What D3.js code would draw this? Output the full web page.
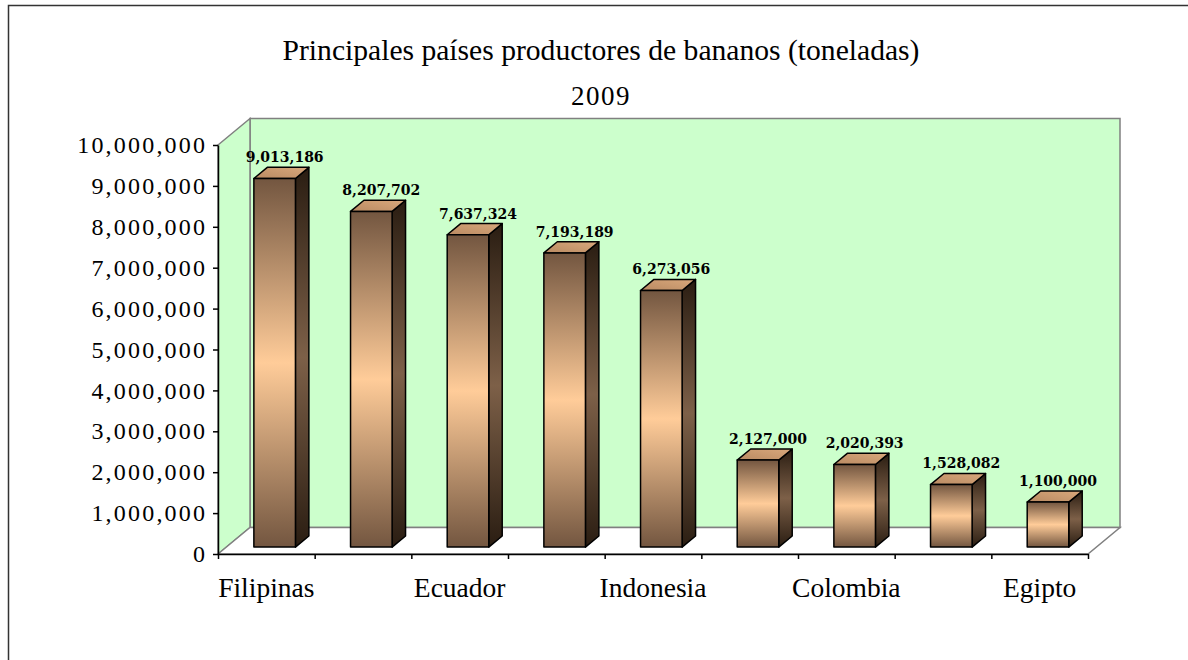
<script src="https://d3js.org/d3.v7.min.js"></script>

<style>
  body { margin: 0; background: #fff; overflow: hidden; }
  svg { display: block; }
  .tick text { font-family: "Liberation Serif", serif; }
  .lbl { font-family: "DejaVu Serif", serif; font-weight: bold; font-size: 14px; }
</style>

<body>
<div id="chart"></div>

<script>
  // data
  var paises = ["Filipinas", "China", "Ecuador", "Brasil", "Indonesia", "Costa Rica", "Colombia", "Guatemala", "Egipto"];
  var toneladas = [9013186, 8207702, 7637324, 7193189, 6273056, 2127000, 2020393, 1528082, 1100000];
  var yTicks = [0, 1000000, 2000000, 3000000, 4000000, 5000000, 6000000, 7000000, 8000000, 9000000, 10000000];
  var titulo = "Principales países productores de bananos (toneladas)";
  var subtitulo = "2009";

  var width = 1188,
      height = 660;

  // front plane of the plot, depth offset of the back wall
  var pL = 218, pR = 1088, pT = 145, pB = 554;
  var DX = 32, DY = 26.5;
  var z0 = 0.26, z1 = 0.68;   // depth range of the bars

  var svg = d3.select("#chart")
      .append("svg")
      .attr("width", width)
      .attr("height", height);

  var x = d3.scaleBand()
      .domain(paises)
      .range([pL, pR])
      .paddingInner(0.57)
      .paddingOuter(0.285);

  var y = d3.scaleLinear()
      .domain([0, 10000000])
      .range([pB, pT]);

  function P(px, py, z) { return [px + z * DX, py - z * DY]; }
  function poly(pts) { return pts.map(function(p) { return p.join(","); }).join(" "); }

  // gradients
  var defs = svg.append("defs");
  function grad(id, stops) {
    var g = defs.append("linearGradient").attr("id", id)
        .attr("x1", 0).attr("y1", 0).attr("x2", 0).attr("y2", 1);
    stops.forEach(function(s) {
      g.append("stop").attr("offset", s[0]).attr("stop-color", s[1]);
    });
  }
  grad("gFront", [[0, "#735640"], [0.5, "#ffcc99"], [1, "#735640"]]);
  grad("gSide", [[0, "#2a1d12"], [0.5, "#7d6048"], [1, "#2a1d12"]]);
  var gt = defs.append("linearGradient").attr("id", "gTop")
      .attr("x1", 0).attr("y1", 1).attr("x2", 1).attr("y2", 0);
  gt.append("stop").attr("offset", 0).attr("stop-color", "#b98a62");
  gt.append("stop").attr("offset", 1).attr("stop-color", "#d9a87c");

  // outer frame (runs off the right and bottom of the picture)
  svg.append("path")
      .attr("d", "M8.5,700V5.5H1300")
      .attr("fill", "none")
      .attr("stroke", "#333")
      .attr("stroke-width", 1.5);

  // titles
  svg.append("text")
      .attr("x", 601).attr("y", 60)
      .attr("text-anchor", "middle")
      .style("font-family", "Liberation Serif, serif")
      .style("font-size", "29.6px")
      .text(titulo);

  svg.append("text")
      .attr("x", 601).attr("y", 105)
      .attr("text-anchor", "middle")
      .style("font-family", "Liberation Serif, serif")
      .style("font-size", "27px")
      .style("letter-spacing", "1.5px")
      .text(subtitulo);

  // walls
  var w = svg.append("g").attr("stroke", "#808080").attr("stroke-width", 1.5);
  w.append("polygon")
      .attr("points", poly([P(pL, pT, 1), P(pR, pT, 1), P(pR, pB, 1), P(pL, pB, 1)]))
      .attr("fill", "#ccffcc");
  w.append("polygon")
      .attr("points", poly([P(pL, pT, 0), P(pL, pT, 1), P(pL, pB, 1), P(pL, pB, 0)]))
      .attr("fill", "#ccffcc");
  w.append("polygon")
      .attr("points", poly([P(pL, pB, 0), P(pL, pB, 1), P(pR, pB, 1), P(pR, pB, 0)]))
      .attr("fill", "#fff");

  // bars
  var bars = svg.append("g")
      .attr("stroke", "#000")
      .attr("stroke-width", 1.5)
      .attr("stroke-linejoin", "round")
      .selectAll("g")
      .data(paises)
      .enter().append("g");

  bars.append("polygon")
      .attr("fill", "url(#gSide)")
      .attr("points", function(d, i) {
        var xr = x(d) + x.bandwidth(), yt = y(toneladas[i]);
        return poly([P(xr, yt, z0), P(xr, yt, z1), P(xr, pB, z1), P(xr, pB, z0)]);
      });

  bars.append("polygon")
      .attr("fill", "url(#gTop)")
      .attr("points", function(d, i) {
        var xl = x(d), xr = x(d) + x.bandwidth(), yt = y(toneladas[i]);
        return poly([P(xl, yt, z0), P(xl, yt, z1), P(xr, yt, z1), P(xr, yt, z0)]);
      });

  bars.append("polygon")
      .attr("fill", "url(#gFront)")
      .attr("points", function(d, i) {
        var xl = x(d), xr = x(d) + x.bandwidth(), yt = y(toneladas[i]);
        return poly([P(xl, yt, z0), P(xr, yt, z0), P(xr, pB, z0), P(xl, pB, z0)]);
      });

  // data labels
  svg.append("g").selectAll("text")
      .data(paises)
      .enter().append("text")
      .attr("class", "lbl")
      .attr("text-anchor", "middle")
      .attr("x", function(d) { return P(x(d) + x.bandwidth() / 2, 0, z0)[0] + 10; })
      .attr("y", function(d, i) { return P(0, y(toneladas[i]), z1)[1] - 5; })
      .text(function(d, i) { return d3.format(",")(toneladas[i]); });

  // value axis
  var yAxis = svg.append("g")
      .attr("transform", "translate(" + pL + ",0)")
      .call(d3.axisLeft(y).tickValues(yTicks).tickFormat(d3.format(",")).tickSize(5).tickPadding(8).tickSizeOuter(0));
  yAxis.select(".domain").attr("stroke", "#000").attr("stroke-width", 1.5);
  yAxis.selectAll(".tick line").attr("stroke-width", 1.5);
  yAxis.selectAll(".tick text")
      .style("font-size", "24px")
      .style("letter-spacing", "2.2px")
      .attr("dx", "2.2px")
      .attr("fill", "#000");

  // category axis: ticks on the band edges, every other name
  var edges = d3.range(paises.length + 1);
  var xEdge = d3.scaleLinear().domain([0, paises.length]).range([pL, pR]);
  var xAxis = svg.append("g")
      .attr("transform", "translate(0," + pB + ")")
      .call(d3.axisBottom(xEdge).tickValues(edges).tickFormat("").tickSize(5).tickSizeOuter(0));
  xAxis.select(".domain").attr("stroke", "#000").attr("stroke-width", 1.5);
  xAxis.selectAll(".tick line").attr("stroke-width", 1.5);

  svg.append("g").selectAll("text")
      .data(paises.filter(function(d, i) { return i % 2 === 0; }))
      .enter().append("text")
      .attr("text-anchor", "middle")
      .attr("x", function(d) { return x(d) + x.bandwidth() / 2; })
      .attr("y", 597)
      .style("font-family", "Liberation Serif, serif")
      .style("font-size", "27.5px")
      .text(function(d) { return d; });
</script>
</body>
